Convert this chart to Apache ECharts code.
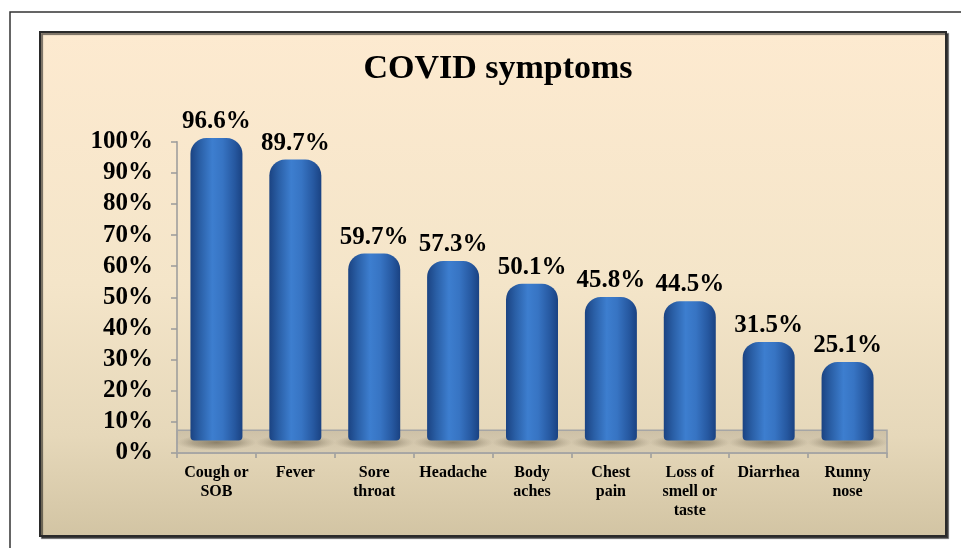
<!DOCTYPE html>
<html>
<head>
<meta charset="utf-8">
<script src="https://cdn.jsdelivr.net/npm/echarts@6/dist/echarts.min.js"></script>
<style>
html,body{margin:0;padding:0;background:#ffffff;}
#chart{width:961px;height:548px;}
</style>
</head>
<body>
<div id="chart"></div>
<script>
const titleText = 'COVID symptoms';
const categories = ['Cough or\nSOB', 'Fever', 'Sore\nthroat', 'Headache', 'Body\naches', 'Chest\npain', 'Loss of\nsmell or\ntaste', 'Diarrhea', 'Runny\nnose'];
const values = [96.6, 89.7, 59.7, 57.3, 50.1, 45.8, 44.5, 31.5, 25.1];
const yMin = 0, yMax = 100, yStep = 10;
const floorDepth = 7.3;

const FONT = '"Liberation Serif", "Times New Roman", serif';
const chart = echarts.init(document.getElementById('chart'), null, {renderer: 'canvas'});

const barGradient = new echarts.graphic.LinearGradient(0, 0, 1, 0, [
  {offset: 0, color: '#1b4382'},
  {offset: 0.18, color: '#2a5fa6'},
  {offset: 0.42, color: '#3d7ecf'},
  {offset: 0.62, color: '#3774c3'},
  {offset: 0.85, color: '#2658a0'},
  {offset: 1, color: '#1a4282'}
]);

const option = {
  animation: false,
  graphic: [
    {type: 'rect', z: -20, shape: {x: 10, y: 12, width: 1000, height: 600},
     style: {fill: '#ffffff', stroke: '#333333', lineWidth: 1.5}},
    {type: 'rect', z: -15, shape: {x: 40, y: 32, width: 906, height: 504},
     style: {
       fill: new echarts.graphic.LinearGradient(0, 0, 0, 1, [
         {offset: 0, color: '#fdead0'},
         {offset: 0.5, color: '#f4e5c9'},
         {offset: 0.8, color: '#e6d8ba'},
         {offset: 1, color: '#d2c4a3'}
       ]),
       stroke: '#2a2a2a', lineWidth: 2,
       shadowColor: 'rgba(0,0,0,0.55)', shadowOffsetX: 2, shadowOffsetY: 2, shadowBlur: 1
     }}
  ],
  title: {
    text: titleText,
    left: 493, top: 47, textAlign: 'center',
    textStyle: {fontFamily: FONT, fontWeight: 'bold', fontSize: 34, color: '#000'}
  },
  grid: [
    {left: 177, right: 74, top: 141.7, bottom: 95},
    {left: 177, right: 74, top: 127.3, bottom: 107.4}
  ],
  xAxis: [
    {type: 'category', gridIndex: 0, data: categories,
     axisLine: {lineStyle: {color: '#9a9a9a', width: 1.5}},
     axisTick: {show: true, length: 5, lineStyle: {color: '#9a9a9a', width: 1.5}},
     axisLabel: {interval: 0, margin: 10, fontFamily: FONT, fontWeight: 'bold', fontSize: 16, lineHeight: 19, color: '#000'}},
    {type: 'category', gridIndex: 1, data: categories, show: false}
  ],
  yAxis: [
    {type: 'value', gridIndex: 0, min: yMin, max: yMax, interval: yStep,
     axisLine: {show: true, lineStyle: {color: '#9a9a9a', width: 1.5}},
     axisTick: {show: true, length: 6, lineStyle: {color: '#9a9a9a', width: 1.5}},
     splitLine: {show: false},
     axisLabel: {margin: 24, padding: [6, 0, 0, 0], formatter: '{value}%', fontFamily: FONT, fontWeight: 'bold', fontSize: 25, color: '#000'}},
    {type: 'value', gridIndex: 1, min: yMin, max: yMax, show: false, splitLine: {show: false}}
  ],
  series: [
    {
      type: 'line', xAxisIndex: 0, yAxisIndex: 0, data: categories.map(() => null),
      silent: true, symbol: 'none',
      markArea: {
        silent: true,
        itemStyle: {
          color: new echarts.graphic.LinearGradient(0, 0, 0, 1, [
            {offset: 0, color: 'rgba(165,155,135,0.4)'},
            {offset: 1, color: 'rgba(200,190,170,0.35)'}
          ]),
          borderColor: '#a5a5a5', borderWidth: 1.5
        },
        data: [[{yAxis: 0}, {yAxis: floorDepth}]]
      }
    },
    {
      type: 'scatter', xAxisIndex: 1, yAxisIndex: 1,
      data: values.map(() => 0), silent: true, z: 1,
      symbol: 'circle', symbolSize: [80, 16], symbolOffset: [0, 2],
      itemStyle: {
        color: new echarts.graphic.RadialGradient(0.5, 0.5, 0.5, [
          {offset: 0, color: 'rgba(60,50,30,0.6)'},
          {offset: 0.6, color: 'rgba(80,70,50,0.35)'},
          {offset: 1, color: 'rgba(120,110,90,0)'}
        ])
      }
    },
    {
      type: 'bar', xAxisIndex: 1, yAxisIndex: 1, data: values, z: 3,
      barWidth: 52,
      itemStyle: {color: barGradient, borderRadius: [16, 16, 4, 4]},
      label: {
        show: true, position: 'top', distance: 4,
        formatter: p => p.value.toFixed(1) + '%',
        fontFamily: FONT, fontWeight: 'bold', fontSize: 25, color: '#000'
      }
    }
  ]
};
chart.setOption(option);
</script>
</body>
</html>
